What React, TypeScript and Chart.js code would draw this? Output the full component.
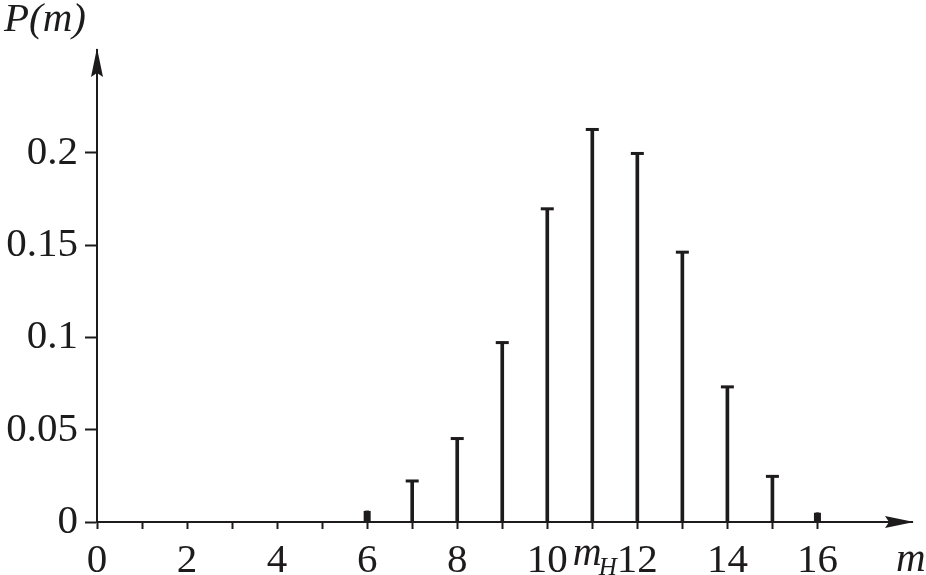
import React, { useEffect, useRef } from "react";
import { Chart, registerables } from "chart.js";

Chart.register(...registerables);

// ---- data ----
const mValues = [6, 7, 8, 9, 10, 11, 12, 13, 14, 15, 16];
const probabilities = [0.006, 0.0225, 0.0455, 0.0975, 0.17, 0.213, 0.2, 0.1465, 0.0735, 0.025, 0.005];
const yTickValues = [0, 0.05, 0.1, 0.15, 0.2];
const yTickLabels = ["0", "0.05", "0.1", "0.15", "0.2"];
const xTickValues = [0, 1, 2, 3, 4, 5, 6, 7, 8, 9, 10, 11, 12, 13, 14, 15, 16];
const xTickLabels = ["0", "", "2", "", "4", "", "6", "", "8", "", "10", "", "12", "", "14", "", "16"];
const peakValue = 11;
const peakLabelMain = "m";
const peakLabelSub = "H";
const xAxisTitle = "m";
const yAxisTitle = "P(m)";

const INK = "#1d1b1c";
const SERIF = "'Liberation Serif', 'Times New Roman', serif";

const decorPlugin = {
  id: "decor",
  afterDatasetsDraw(chart: any) {
    const ctx = chart.ctx;
    const meta = chart.getDatasetMeta(0);
    const base = chart.scales.y.getPixelForValue(0);
    ctx.save();
    ctx.fillStyle = INK;
    meta.data.forEach((bar: any) => {
      const x = bar.x;
      const y = bar.y;
      if (base - y > 14) {
        ctx.fillRect(x - 6.5, y - 1, 13, 3);
      } else {
        ctx.fillRect(x - 3.5, y, 7, base - y);
      }
    });
    ctx.restore();
  },
  afterDraw(chart: any) {
    const ctx = chart.ctx;
    const xs = chart.scales.x;
    const ys = chart.scales.y;
    const x0 = xs.getPixelForValue(0);
    const y0 = ys.getPixelForValue(0);
    const top = chart.chartArea.top;
    const right = chart.chartArea.right;
    ctx.save();
    ctx.fillStyle = INK;
    // y arrow
    ctx.beginPath();
    ctx.moveTo(x0, top - 2);
    ctx.lineTo(x0 - 6, top + 27);
    ctx.lineTo(x0, top + 23);
    ctx.lineTo(x0 + 6, top + 27);
    ctx.closePath();
    ctx.fill();
    // x arrow
    ctx.beginPath();
    ctx.moveTo(right + 2, y0);
    ctx.lineTo(right - 27, y0 - 6);
    ctx.lineTo(right - 23, y0);
    ctx.lineTo(right - 27, y0 + 6);
    ctx.closePath();
    ctx.fill();

    // axis titles
    ctx.textBaseline = "alphabetic";
    ctx.textAlign = "left";
    ctx.font = `italic 41px ${SERIF}`;
    ctx.fillText(yAxisTitle, 4, 31);
    ctx.fillText(xAxisTitle, 896, 571);

    // peak label m_H
    const px = xs.getPixelForValue(peakValue);
    ctx.font = `italic 40px ${SERIF}`;
    const mw = ctx.measureText(peakLabelMain).width;
    const sub = `italic 25px ${SERIF}`;
    ctx.font = sub;
    const hw = ctx.measureText(peakLabelSub).width;
    const startX = px - (mw + hw) / 2 + 4;
    ctx.font = `italic 40px ${SERIF}`;
    ctx.fillText(peakLabelMain, startX, 565);
    ctx.font = sub;
    ctx.fillText(peakLabelSub, startX + mw - 3, 575);
    ctx.restore();
  },
};

export default function App() {
  const canvasRef = useRef<HTMLCanvasElement | null>(null);

  useEffect(() => {
    document.body.style.margin = "0";
    const canvas = canvasRef.current;
    if (!canvas) return;
    const chart = new Chart(canvas, {
      type: "bar",
      data: {
        datasets: [
          {
            data: mValues.map((m, i) => ({ x: m, y: probabilities[i] })),
            backgroundColor: INK,
            borderWidth: 0,
            barThickness: 3,
          },
        ],
      },
      options: {
        responsive: false,
        animation: false,
        events: [],
        layout: { padding: { top: 50, right: 14, left: 0, bottom: 0 } },
        plugins: { legend: { display: false }, tooltip: { enabled: false } },
        scales: {
          x: {
            type: "linear",
            min: 0,
            max: 18.1,
            offset: false,
            afterBuildTicks: (scale: any) => {
              scale.ticks = xTickValues.map((v) => ({ value: v }));
            },
            afterFit: (scale: any) => {
              scale.height = 53;
            },
            border: { display: true, color: INK, width: 2 },
            grid: {
              offset: false,
              drawOnChartArea: false,
              drawTicks: true,
              tickLength: 7,
              tickColor: INK,
              tickWidth: 2,
              color: INK,
            },
            ticks: {
              autoSkip: false,
              maxRotation: 0,
              padding: 8,
              color: INK,
              font: { family: SERIF, size: 41 },
              callback: (_v: any, i: number) => xTickLabels[i],
            },
          },
          y: {
            type: "linear",
            min: 0,
            max: 0.2558,
            afterBuildTicks: (scale: any) => {
              scale.ticks = yTickValues.map((v) => ({ value: v }));
            },
            afterFit: (scale: any) => {
              scale.width = 97;
            },
            border: { display: true, color: INK, width: 2 },
            grid: {
              drawOnChartArea: false,
              drawTicks: true,
              tickLength: 12,
              tickColor: INK,
              tickWidth: 2,
              color: INK,
            },
            ticks: {
              padding: 7,
              color: INK,
              font: { family: SERIF, size: 41 },
              callback: (_v: any, i: number) => yTickLabels[i],
            },
          },
        },
      },
      plugins: [decorPlugin],
    } as any);
    return () => chart.destroy();
  }, []);

  return (
    <div style={{ width: 926, height: 575, background: "#fff" }}>
      <canvas ref={canvasRef} width={926} height={575} style={{ display: "block" }} />
    </div>
  );
}
